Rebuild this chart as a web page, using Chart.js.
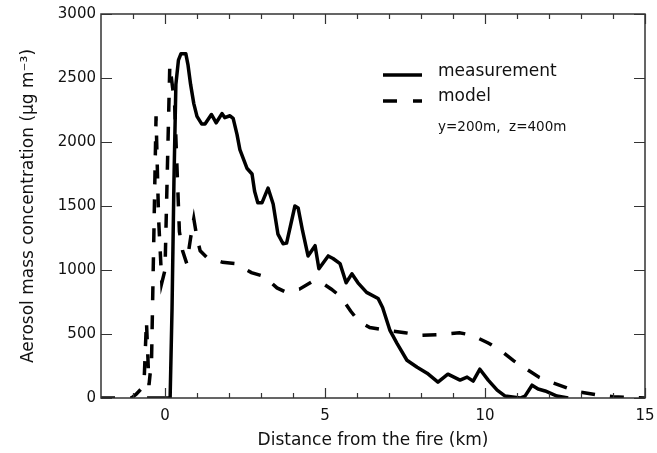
<!DOCTYPE html>
<html>
<head>
<meta charset="utf-8">
<script src="https://cdn.jsdelivr.net/npm/chart.js@4/dist/chart.umd.min.js"></script>
<style>
  html, body { margin: 0; padding: 0; background: #fff; }
  #wrap { width: 657px; height: 453px; }
</style>
</head>
<body>
<div id="wrap"><canvas id="aerosolChart" width="657" height="453"></canvas></div>
<script>
// measurement (solid line): distance in km, concentration in ug/m3
const measX = [-0.56, 0.16, 0.22, 0.28, 0.34, 0.42, 0.5, 0.65, 0.72, 0.8, 0.9, 1.0, 1.15, 1.25, 1.45, 1.6, 1.78, 1.87, 2.03, 2.13,
  2.25, 2.34, 2.56, 2.72, 2.8, 2.9, 3.03, 3.22, 3.38, 3.53, 3.69, 3.8, 4.06, 4.16, 4.3, 4.47, 4.69, 4.81, 5.1, 5.25,
  5.47, 5.66, 5.84, 6.03, 6.3, 6.66, 6.8, 7.03, 7.25, 7.56, 7.88, 8.19, 8.53, 8.84, 9.22, 9.44, 9.63, 9.84, 10.1, 10.38,
  10.63, 11.1, 11.25, 11.47, 11.66, 11.88, 12.25, 12.6];
const measY = [0, 0, 700, 1700, 2450, 2640, 2690, 2690, 2600, 2450, 2300, 2200, 2140, 2140, 2215, 2150, 2222, 2190, 2205, 2185,
  2060, 1940, 1795, 1750, 1615, 1525, 1525, 1640, 1515, 1280, 1205, 1210, 1500, 1485, 1305, 1110, 1190, 1010, 1110, 1090,
  1050, 900, 970, 900, 825, 777, 707, 528, 427, 295, 240, 194, 124, 186, 140, 163, 132, 225, 140, 62,
  15, 0, 15, 100, 70, 55, 15, 0];

// model (dashed line), y=200m, z=400m
const modelX = [-2, -1.05, -0.9, -0.75, -0.65, -0.58, -0.5, -0.42, -0.28, -0.2, -0.1, 0.0, 0.15, 0.3, 0.45, 0.55, 0.68, 0.8, 0.9, 1.0,
  1.1, 1.3, 1.8, 2.2, 2.7, 3.1, 3.5, 3.75, 4.2, 4.6, 4.9, 5.2, 5.5, 5.8, 6.05, 6.4, 6.9, 7.5, 8.0, 8.5,
  9.2, 9.6, 10.1, 10.5, 10.9, 11.3, 11.7, 12.1, 12.6, 13.0, 13.5, 14.0, 14.5, 15];
const modelY = [0, 0, 30, 70, 150, 600, 100, 300, 2200, 1400, 900, 1000, 2600, 2300, 1300, 1150, 1050, 1250, 1400, 1250,
  1150, 1100, 1060, 1050, 980, 950, 860, 830, 850, 910, 900, 850, 790, 680, 600, 550, 530, 510, 490, 495,
  510, 490, 430, 370, 290, 225, 160, 120, 75, 45, 25, 10, 3, 0];

// axes
const xMajor = [0, 5, 10, 15];
const xMinor = [-1, 1, 2, 3, 4, 6, 7, 8, 9, 11, 12, 13, 14];
const yMajor = [0, 500, 1000, 1500, 2000, 2500, 3000];

const FONT = "'DejaVu Sans', sans-serif";
const INK = '#111';

const toPoints = (xs, ys) => xs.map((x, i) => ({ x: x, y: ys[i] }));

// draws the box, inward tick marks on all four sides and the legend
const framePlugin = {
    id: 'frame',
    afterDraw(chart) {
        const { ctx, chartArea: a, scales } = chart;
        const xs = scales.x, ys = scales.y;
        ctx.save();
        ctx.strokeStyle = '#333';
        ctx.lineWidth = 1.5;
        ctx.strokeRect(a.left, a.top, a.right - a.left, a.bottom - a.top);

        ctx.beginPath();
        const tick = (v, len) => {
            const px = Math.round(xs.getPixelForValue(v)) + 0.5;
            ctx.moveTo(px, a.bottom); ctx.lineTo(px, a.bottom - len);
            ctx.moveTo(px, a.top); ctx.lineTo(px, a.top + len);
        };
        xMajor.forEach(v => tick(v, 10));
        xMinor.forEach(v => tick(v, 5));
        yMajor.forEach(v => {
            const py = Math.round(ys.getPixelForValue(v)) + 0.5;
            ctx.moveTo(a.left, py); ctx.lineTo(a.left + 11, py);
            ctx.moveTo(a.right, py); ctx.lineTo(a.right - 11, py);
        });
        ctx.lineWidth = 1.2;
        ctx.stroke();

        // legend
        ctx.strokeStyle = '#000';
        ctx.lineWidth = 3.5;
        ctx.beginPath();
        ctx.moveTo(383, 75); ctx.lineTo(422, 75);
        ctx.stroke();
        ctx.setLineDash([14, 16]);
        ctx.beginPath();
        ctx.moveTo(383, 101); ctx.lineTo(422, 101);
        ctx.stroke();
        ctx.setLineDash([]);

        ctx.fillStyle = INK;
        ctx.textBaseline = 'middle';
        ctx.textAlign = 'left';
        ctx.font = '17px ' + FONT;
        ctx.fillText('measurement', 438, 72);
        ctx.fillText('model', 438, 97);
        ctx.font = '13.5px ' + FONT;
        ctx.fillText('y=200m,  z=400m', 438, 127);
        ctx.restore();
    }
};

const ctx = document.getElementById('aerosolChart').getContext('2d');
const chart = new Chart(ctx, {
    type: 'scatter',
    data: {
        datasets: [
            {
                label: 'measurement',
                data: toPoints(measX, measY),
                showLine: true,
                borderColor: '#000',
                borderWidth: 3.5,
                pointRadius: 0,
                tension: 0,
                borderJoinStyle: 'round',
                fill: false
            },
            {
                label: 'model',
                data: toPoints(modelX, modelY),
                showLine: true,
                borderColor: '#000',
                borderWidth: 3.5,
                borderDash: [14, 15],
                pointRadius: 0,
                tension: 0,
                fill: false
            }
        ]
    },
    options: {
        responsive: false,
        animation: false,
        layout: { padding: { top: 12, right: 12, bottom: 0, left: 0 } },
        plugins: {
            legend: { display: false },
            tooltip: { enabled: false }
        },
        scales: {
            x: {
                type: 'linear',
                min: -2,
                max: 15,
                grid: { display: false, drawTicks: false },
                border: { display: false },
                afterBuildTicks: s => { s.ticks = xMajor.map(v => ({ value: v })); },
                afterFit: s => { s.height = 55; s.paddingRight = 0; },
                ticks: { color: INK, font: { family: FONT, size: 15 }, padding: 9, maxRotation: 0, callback: v => String(v) },
                title: {
                    display: true,
                    text: 'Distance from the fire (km)',
                    color: INK,
                    font: { family: FONT, size: 17 },
                    padding: { top: 0, bottom: 2 }
                }
            },
            y: {
                min: 0,
                max: 3000,
                grid: { display: false, drawTicks: false },
                border: { display: false },
                afterBuildTicks: s => { s.ticks = yMajor.map(v => ({ value: v })); },
                afterFit: s => { s.width = 101; },
                ticks: { color: INK, font: { family: FONT, size: 15 }, padding: 5, callback: v => String(v) },
                title: {
                    display: true,
                    text: 'Aerosol mass concentration (\u03bcg m\u207b\u00b3)',
                    color: INK,
                    font: { family: FONT, size: 17 },
                    padding: { top: 18, bottom: 0 }
                }
            }
        }
    },
    plugins: [framePlugin]
});
</script>
</body>
</html>
